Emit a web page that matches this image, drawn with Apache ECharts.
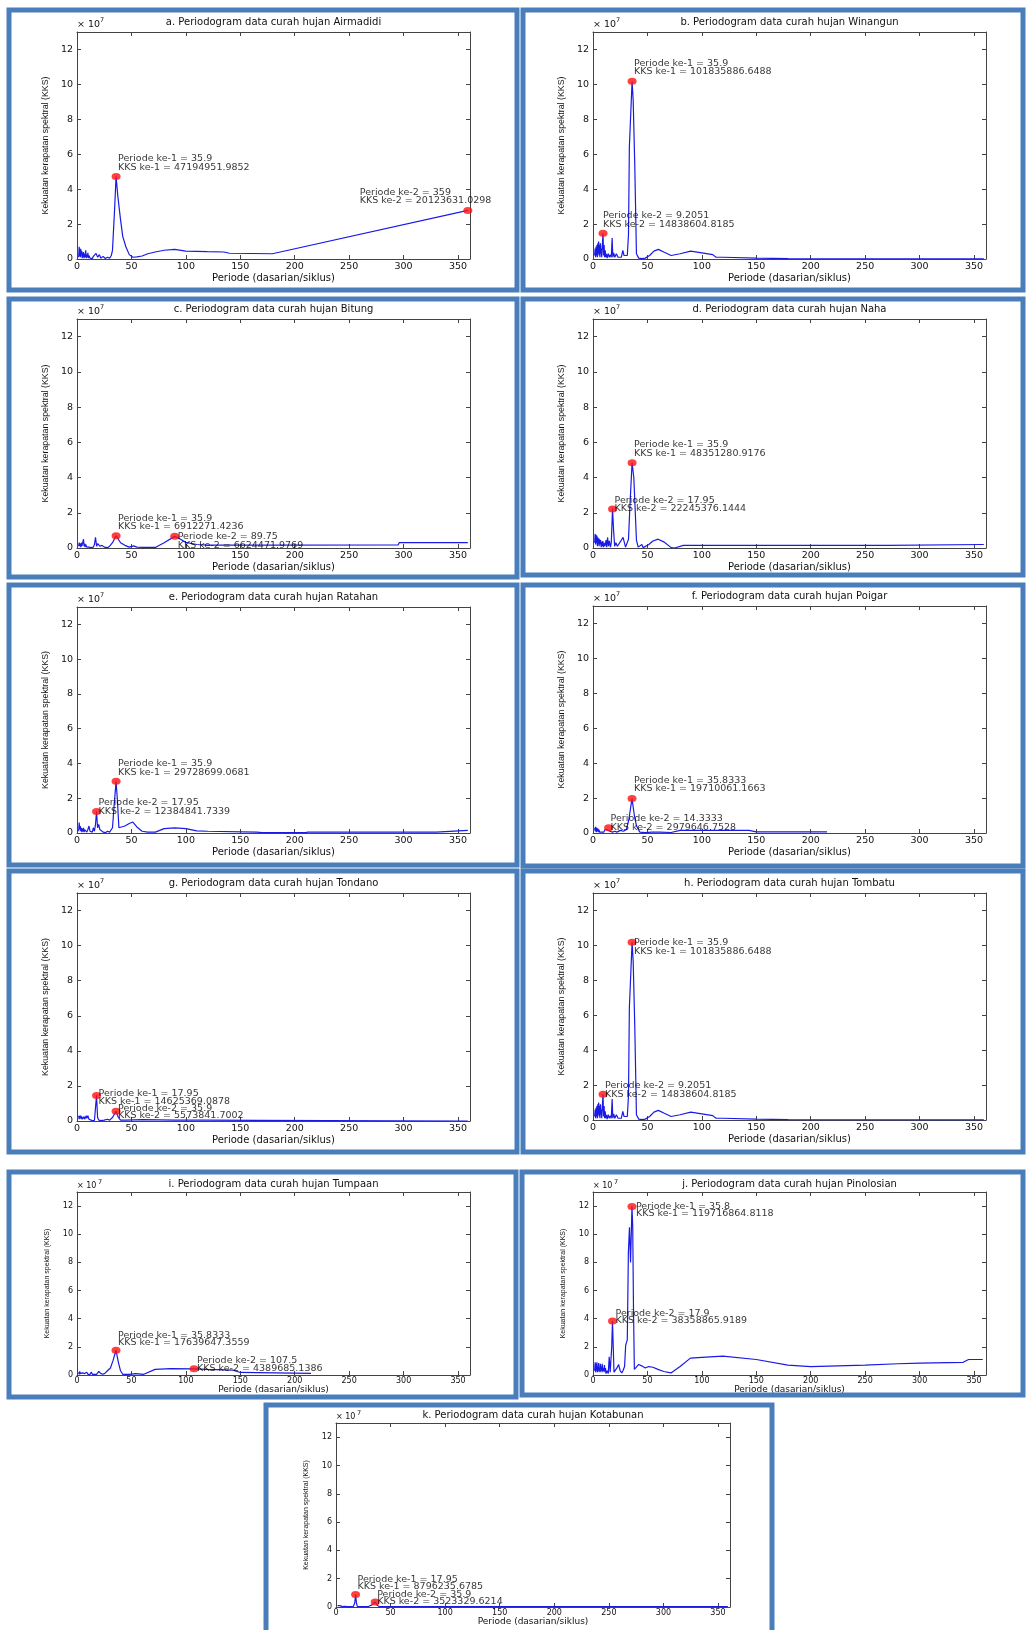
<!DOCTYPE html>
<html>
<head>
<meta charset="utf-8">
<title>Periodogram data curah hujan</title>
<script src="https://cdn.jsdelivr.net/npm/echarts@6/dist/echarts.min.js"></script>
<style>
  html, body { margin: 0; padding: 0; background: #fff; }
  #chart { width: 1026px; height: 1630px; }
</style>
</head>
<body>
<div id="chart"></div>
<script>
// [periode (dasarian/siklus), KKS x 10^7]
const kksAirmadidi = [[1.5,0.1],[2,0.7],[2.4,0.15],[2.8,0.6],[3.2,0.1],[3.6,0.55],[4,0.2],[4.4,0.45],[4.8,0.05],[5.2,0.35],[5.6,0.1],[6,0.4],[6.5,0.05],[7,0.3],[7.5,0.1],[8,0.5],[8.5,0.05],[9,0.25],[9.5,0.1],[10,0.35],[10.5,0.05],[11,0.2],[12,0.05],[13,0.1],[14,0.02],[15,0.15],[16,0.25],[17.5,0.32],[19,0.1],[20.5,0.25],[22,0.05],[24,0.15],[26,0.03],[28,0.1],[30,0.05],[31.5,0.2],[32.6,0.5],[34.5,2.8],[35.9,4.72],[37.5,3.6],[39.9,2.3],[42,1.3],[44.9,0.7],[48,0.25],[51.3,0.1],[55,0.12],[59.8,0.17],[65,0.3],[71.8,0.4],[80,0.5],[89.75,0.55],[100,0.45],[119.7,0.42],[135,0.4],[140,0.33],[179.5,0.3],[359,2.78]];
const kksWinangun = [[1.5,0.2],[2,0.6],[2.4,0.1],[2.8,0.7],[3.2,0.2],[3.6,0.8],[4,0.1],[4.4,0.9],[4.8,0.3],[5.2,1.0],[5.6,0.2],[6,0.8],[6.4,0.1],[6.8,0.9],[7.2,0.3],[7.6,0.6],[8,0.1],[8.5,0.7],[9.2,1.48],[9.7,0.2],[10.2,0.8],[10.7,0.1],[11.2,0.5],[11.8,0.1],[12.4,0.3],[13,0.05],[14,0.3],[15,0.1],[16,0.25],[16.8,0.1],[17.6,1.2],[18.2,0.1],[19,0.35],[20,0.1],[21.5,0.3],[23,0.1],[24.5,0.2],[26,0.1],[27.4,0.5],[28.5,0.2],[30,0.1],[31.5,0.2],[32.6,1.4],[33.4,6.4],[34.6,6.4],[35.9,10.18],[36.9,9.1],[38.4,5.3],[39.9,0.3],[42,0.05],[45,0.02],[48,0.05],[52,0.2],[56,0.45],[60,0.55],[65,0.4],[71.8,0.2],[80,0.3],[89.75,0.45],[100,0.35],[110,0.25],[113,0.1],[119.7,0.1],[150,0.05],[179.5,0.02],[359,0.01]];
const kksBitung = [[1.5,0.1],[2,0.3],[2.5,0.1],[3,0.25],[3.5,0.05],[4,0.3],[4.5,0.1],[5,0.2],[5.5,0.05],[6,0.5],[6.5,0.1],[7,0.25],[7.5,0.05],[8,0.2],[9,0.05],[10,0.15],[11,0.05],[12,0.1],[13,0.02],[14,0.1],[15,0.05],[16,0.2],[17,0.6],[18,0.1],[19,0.25],[21,0.1],[23,0.15],[25,0.05],[28,0.02],[30,0.1],[32.6,0.3],[35.9,0.69],[38,0.5],[40,0.3],[44,0.15],[48,0.05],[52,0.12],[55,0.05],[60,0.03],[72,0.03],[80,0.3],[89.75,0.66],[95,0.5],[100,0.32],[110,0.2],[120,0.16],[179.5,0.16],[295,0.17],[296,0.3],[359,0.3]];
const kksNaha = [[1.5,0.3],[2,0.8],[2.4,0.2],[2.8,0.75],[3.2,0.3],[3.6,0.7],[4,0.1],[4.4,0.6],[4.8,0.2],[5.2,0.55],[5.6,0.1],[6,0.5],[6.5,0.2],[7,0.45],[7.5,0.05],[8,0.35],[8.5,0.1],[9,0.4],[9.5,0.05],[10,0.3],[11,0.1],[12,0.45],[12.6,0.05],[13.4,0.6],[14.2,0.1],[15,0.4],[16,0.05],[16.8,0.3],[17.95,2.22],[18.9,1.0],[19.9,0.1],[21,0.3],[22.4,0.1],[24,0.2],[25.6,0.4],[27.6,0.6],[29.9,0.05],[31.5,0.05],[32.6,0.5],[34,2.5],[35.9,4.84],[37.5,4.0],[39.9,0.45],[41.5,0.05],[44.9,0.2],[46,0.02],[51.3,0.2],[55,0.4],[59.8,0.5],[65,0.35],[71.8,0.02],[75,0.0],[83,0.15],[179.5,0.15],[270,0.15],[271,0.2],[359,0.2]];
const kksRatahan = [[1.5,0.1],[2,0.6],[2.5,0.2],[3,0.4],[3.5,0.1],[4,0.3],[4.5,0.05],[5,0.25],[5.5,0.1],[6,0.3],[6.5,0.05],[7,0.2],[7.5,0.1],[8,0.15],[9,0.05],[10,0.2],[11,0.4],[12,0.1],[13,0.2],[14,0.05],[15,0.3],[16,0.1],[17,0.5],[17.95,1.24],[18.9,0.3],[19.9,0.5],[21,0.2],[22.4,0.1],[24,0.05],[26,0.02],[28,0.1],[30,0.05],[32.6,0.3],[34,1.5],[35.9,2.97],[37,2.0],[38.5,0.3],[40,0.2],[44,0.4],[48,0.55],[51.3,0.63],[55,0.35],[59.8,0.1],[65,0.05],[72,0.05],[80,0.25],[89.75,0.3],[100,0.25],[110,0.12],[120,0.1],[165,0.05],[170,0.02],[210,0.02],[212,0.05],[330,0.05],[331,0.15],[359,0.15]];
const kksPoigar = [[1.5,0.3],[2,0.1],[2.5,0.35],[3,0.05],[3.5,0.3],[4,0.1],[4.5,0.25],[5,0.05],[5.5,0.2],[6,0.05],[7,0.15],[8,0.05],[9,0.1],[10,0.05],[11,0.2],[12,0.1],[13,0.2],[14.33,0.3],[15.4,0.1],[16.5,0.2],[18,0.05],[20,0.1],[22,0.05],[25,0.15],[28,0.1],[30.7,0.2],[33,0.8],[35.83,1.97],[38,1.0],[40,0.4],[43,0.05],[47.8,0.02],[53.75,0.05],[61.4,0.05],[71.7,0.03],[80,0.15],[107.5,0.15],[143.3,0.15],[150,0.06],[215,0.06]];
const kksTondano = [[1.5,0.3],[2,0.1],[2.5,0.3],[3,0.15],[3.5,0.3],[4,0.1],[4.5,0.25],[5,0.1],[5.5,0.2],[6,0.1],[6.5,0.25],[7,0.1],[7.5,0.2],[8,0.1],[8.5,0.3],[9,0.15],[10,0.3],[11,0.1],[12,0.05],[14,0.02],[16,0.03],[17,0.1],[17.95,1.46],[18.9,0.2],[20,0.05],[22,0.02],[25,0.05],[28,0.1],[30,0.05],[32.6,0.2],[35.9,0.56],[38,0.2],[40,0.05],[45,0.05],[60,0.08],[90,0.05],[120,0.05],[165,0.04],[166,0.0],[359,0.0]];
const kksTombatu = kksWinangun; // panel h is drawn identical to panel b
const kksTumpaan = [[1.5,0.2],[2,0.05],[2.5,0.25],[3,0.1],[3.5,0.2],[4,0.05],[5,0.15],[6,0.05],[7,0.1],[8,0.05],[9,0.2],[10,0.05],[11,0.15],[12,0.05],[13,0.2],[14.3,0.05],[16,0.1],[18,0.05],[20,0.25],[22,0.1],[24,0.05],[26,0.15],[28,0.3],[30.7,0.5],[33,1.0],[35.83,1.76],[38,0.9],[40,0.3],[42,0.05],[47.8,0.05],[53.75,0.1],[61.4,0.05],[71.7,0.4],[86,0.45],[107.5,0.44],[120,0.4],[143.3,0.35],[150,0.18],[215,0.12]];
const kksPinolosian = [[1.5,0.3],[2,0.9],[2.4,0.2],[2.8,0.8],[3.2,0.3],[3.6,0.9],[4,0.2],[4.4,0.6],[4.8,0.3],[5.2,0.85],[5.6,0.2],[6,0.5],[6.4,0.3],[6.8,0.8],[7.2,0.2],[7.6,0.6],[8,0.3],[8.5,0.8],[9,0.2],[9.5,0.5],[10,0.3],[10.5,0.7],[11,0.2],[11.5,0.5],[12,0.1],[13,0.3],[14,0.1],[14.9,1.3],[15.8,0.2],[16.5,0.1],[17.2,2.0],[17.9,3.84],[18.6,2.0],[19.3,0.2],[20.5,0.1],[22,0.5],[23.5,0.75],[25,0.3],[26.5,0.15],[27.5,0.3],[29,0.6],[30,2.1],[31.5,2.5],[32.5,8.7],[33.5,10.5],[34.5,8.0],[35.8,11.97],[36.5,10.5],[37.2,4.7],[38,0.4],[39.8,0.5],[42,0.75],[44.75,0.65],[48,0.5],[51.1,0.6],[55,0.55],[59.7,0.4],[65,0.25],[71.6,0.15],[80,0.6],[89.5,1.2],[100,1.25],[119.3,1.34],[150,1.1],[179,0.7],[200,0.6],[225,0.65],[250,0.7],[280,0.8],[300,0.85],[340,0.9],[345,1.1],[358,1.1]];
const kksKotabunan = [[1.5,0.1],[2,0.05],[2.5,0.12],[3,0.03],[3.5,0.1],[4,0.05],[5,0.1],[6,0.03],[7,0.08],[8,0.05],[9,0.1],[10,0.03],[11,0.08],[12,0.02],[14,0.03],[16,0.05],[17.2,0.3],[17.95,0.88],[18.7,0.3],[19.5,0.05],[22,0.02],[26,0.03],[30,0.05],[33,0.15],[35.9,0.35],[38,0.1],[40,0.02],[60,0.02],[120,0.02],[359,0.02]];

// the two marked peaks of each panel: [periode, KKS x 10^7]
const puncakAirmadidi = [[35.9, 4.72], [359, 2.78]];
const puncakWinangun = [[35.9, 10.18], [9.2051, 1.48]];
const puncakBitung = [[35.9, 0.69], [89.75, 0.66]];
const puncakNaha = [[35.9, 4.84], [17.95, 2.22]];
const puncakRatahan = [[35.9, 2.97], [17.95, 1.24]];
const puncakPoigar = [[35.8333, 1.97], [14.3333, 0.3]];
const puncakTondano = [[17.95, 1.46], [35.9, 0.56]];
const puncakTombatu = [[35.9, 10.18], [9.2051, 1.48]];
const puncakTumpaan = [[35.8333, 1.76], [107.5, 0.44]];
const puncakPinolosian = [[35.8, 11.97], [17.9, 3.84]];
const puncakKotabunan = [[17.95, 0.88], [35.9, 0.35]];

const teksAirmadidi = ['Periode ke-1 = 35.9\nKKS ke-1 = 47194951.9852', 'Periode ke-2 = 359\nKKS ke-2 = 20123631.0298'];
const teksWinangun = ['Periode ke-1 = 35.9\nKKS ke-1 = 101835886.6488', 'Periode ke-2 = 9.2051\nKKS ke-2 = 14838604.8185'];
const teksBitung = ['Periode ke-1 = 35.9\nKKS ke-1 = 6912271.4236', 'Periode ke-2 = 89.75\nKKS ke-2 = 6624471.9769'];
const teksNaha = ['Periode ke-1 = 35.9\nKKS ke-1 = 48351280.9176', 'Periode ke-2 = 17.95\nKKS ke-2 = 22245376.1444'];
const teksRatahan = ['Periode ke-1 = 35.9\nKKS ke-1 = 29728699.0681', 'Periode ke-2 = 17.95\nKKS ke-2 = 12384841.7339'];
const teksPoigar = ['Periode ke-1 = 35.8333\nKKS ke-1 = 19710061.1663', 'Periode ke-2 = 14.3333\nKKS ke-2 = 2979646.7528'];
const teksTondano = ['Periode ke-1 = 17.95\nKKS ke-1 = 14625369.0878', 'Periode ke-2 = 35.9\nKKS ke-2 = 5573841.7002'];
const teksTombatu = ['Periode ke-1 = 35.9\nKKS ke-1 = 101835886.6488', 'Periode ke-2 = 9.2051\nKKS ke-2 = 14838604.8185'];
const teksTumpaan = ['Periode ke-1 = 35.8333\nKKS ke-1 = 17639647.3559', 'Periode ke-2 = 107.5\nKKS ke-2 = 4389685.1386'];
const teksPinolosian = ['Periode ke-1 = 35.8\nKKS ke-1 = 119716864.8118', 'Periode ke-2 = 17.9\nKKS ke-2 = 38358865.9189'];
const teksKotabunan = ['Periode ke-1 = 17.95\nKKS ke-1 = 8796235.6785', 'Periode ke-2 = 35.9\nKKS ke-2 = 3523329.6214'];

const judul = [
  'a. Periodogram data curah hujan Airmadidi',
  'b. Periodogram data curah hujan Winangun',
  'c. Periodogram data curah hujan Bitung',
  'd. Periodogram data curah hujan Naha',
  'e. Periodogram data curah hujan Ratahan',
  'f. Periodogram data curah hujan Poigar',
  'g. Periodogram data curah hujan Tondano',
  'h. Periodogram data curah hujan Tombatu',
  'i. Periodogram data curah hujan Tumpaan',
  'j. Periodogram data curah hujan Pinolosian',
  'k. Periodogram data curah hujan Kotabunan'
];
const semuaKks = [kksAirmadidi, kksWinangun, kksBitung, kksNaha, kksRatahan, kksPoigar, kksTondano, kksTombatu, kksTumpaan, kksPinolosian, kksKotabunan];
const semuaPuncak = [puncakAirmadidi, puncakWinangun, puncakBitung, puncakNaha, puncakRatahan, puncakPoigar, puncakTondano, puncakTombatu, puncakTumpaan, puncakPinolosian, puncakKotabunan];
const semuaTeks = [teksAirmadidi, teksWinangun, teksBitung, teksNaha, teksRatahan, teksPoigar, teksTondano, teksTombatu, teksTumpaan, teksPinolosian, teksKotabunan];

// layout: frame box, plot grid [left, top, width, height], label offsets of the two peaks, short panel flag
const tata = [
  { box: [9, 10, 508, 280], grid: [77, 32, 393, 227], lab: [[2, -13.5], [-108, -14]], lh: 8.7, kecil: false },
  { box: [523, 10, 500, 280], grid: [593, 32, 393, 227], lab: [[2, -13.8], [0, -13.2]], lh: 8.7, kecil: false },
  { box: [9, 299, 508, 278], grid: [77, 319, 393, 229], lab: [[2, -13.2], [3, 4.5]], lh: 8.7, kecil: false },
  { box: [523, 299, 500, 276], grid: [593, 319, 393, 229], lab: [[2, -13.5], [2, -4.3]], lh: 8.7, kecil: false },
  { box: [9, 585, 508, 280], grid: [77, 607, 393, 226], lab: [[2, -13.2], [2, -4.7]], lh: 8.7, kecil: false },
  { box: [523, 585, 500, 281], grid: [593, 606, 393, 227], lab: [[2, -14], [2, -4.8]], lh: 8.7, kecil: false },
  { box: [9, 871, 508, 281], grid: [77, 893, 393, 228], lab: [[2, 1.8], [2, 1]], lh: 7.7, kecil: false },
  { box: [523, 871, 500, 281], grid: [593, 893, 393, 227], lab: [[2, 5], [2, -4.3]], lh: 8.7, kecil: false },
  { box: [9, 1172, 507, 225], grid: [77, 1192, 393, 183], lab: [[2, -11.3], [3, -4.2]], lh: 7.5, kecil: true },
  { box: [522, 1172, 501, 223], grid: [593, 1192, 393, 183], lab: [[4, 3.5], [3, -4]], lh: 7.7, kecil: true },
  { box: [266, 1405, 506, 240], grid: [336, 1423, 394, 184], lab: [[2, -11.7], [2, -3.8]], lh: 7.5, kecil: true }
];

const FONT = '"DejaVu Sans", sans-serif';
const WARNA_TEKS = '#111';
const WARNA_SUMBU = '#444';

var chartDom = document.getElementById('chart');
var myChart = echarts.init(chartDom);

var grid = [], xAxis = [], yAxis = [], series = [], graphic = [];

judul.forEach(function (nama, i) {
  var t = tata[i];
  var g = t.grid;
  var tickSize = t.kecil ? 8 : 9.5;
  grid.push({ left: g[0], top: g[1], width: g[2], height: g[3] });

  var garis = { show: true, onZero: false, lineStyle: { color: WARNA_SUMBU, width: 1 } };
  var tick = { show: true, inside: true, length: 4, lineStyle: { color: WARNA_SUMBU, width: 1 } };
  var sumbuX = {
    gridIndex: i, type: 'value', min: 0, max: 361, interval: 50,
    axisLine: garis, axisTick: tick, splitLine: { show: false }
  };
  var sumbuY = {
    gridIndex: i, type: 'value', min: 0, max: 13, interval: 2,
    axisLine: garis, axisTick: tick, splitLine: { show: false }
  };

  xAxis.push(Object.assign({}, sumbuX, {
    position: 'bottom',
    axisLabel: {
      margin: t.kecil ? 2 : 3, fontFamily: FONT, fontSize: tickSize, color: WARNA_TEKS,
      formatter: function (v) { return v % 50 === 0 ? String(v) : ''; }
    },
    name: 'Periode (dasarian/siklus)', nameLocation: 'middle', nameGap: t.kecil ? 10 : 14,
    nameMoveOverlap: false,
    nameTextStyle: { fontFamily: FONT, fontSize: t.kecil ? 9 : 10, color: WARNA_TEKS }
  }));
  xAxis.push(Object.assign({}, sumbuX, { position: 'top', axisLabel: { show: false } }));

  yAxis.push(Object.assign({}, sumbuY, {
    position: 'left',
    axisLabel: {
      margin: 4, fontFamily: FONT, fontSize: tickSize, color: WARNA_TEKS,
      formatter: function (v) { return v % 2 === 0 ? String(v) : ''; }
    },
    name: 'Kekuatan kerapatan spektral (KKS)', nameLocation: 'middle', nameRotate: 90,
    nameGap: t.kecil ? 26 : 27, nameMoveOverlap: false,
    nameTextStyle: { fontFamily: '"Liberation Sans", Arial, sans-serif', fontSize: t.kecil ? 7 : 8.8, color: WARNA_TEKS }
  }));
  yAxis.push(Object.assign({}, sumbuY, { position: 'right', axisLabel: { show: false } }));

  series.push({
    type: 'line', xAxisIndex: 2 * i, yAxisIndex: 2 * i,
    data: semuaKks[i], showSymbol: false, symbol: 'none', silent: true,
    lineStyle: { color: '#1a1ae6', width: 1.2 }, z: 2
  });
  series.push({
    type: 'scatter', xAxisIndex: 2 * i, yAxisIndex: 2 * i, z: 3,
    symbol: 'circle', symbolSize: [9, 7], itemStyle: { color: '#ff1010' },
    data: semuaPuncak[i].map(function (v, j) {
      return {
        value: v,
        label: {
          show: true, position: 'inside', align: 'left', verticalAlign: 'middle',
          offset: t.lab[j], formatter: semuaTeks[i][j],
          fontFamily: FONT, fontSize: 9.5, lineHeight: t.lh, color: '#000',
          textBorderWidth: 0
        }
      };
    })
  });

  // blue frame of the panel
  graphic.push({
    type: 'rect', silent: true, z: 10,
    shape: { x: t.box[0], y: t.box[1], width: t.box[2], height: t.box[3] },
    style: { fill: null, stroke: '#4a7ebb', lineWidth: 5 }
  });
  // title and exponent
  var atas = t.kecil ? 7.5 : 10;
  graphic.push({
    type: 'text', silent: true, x: g[0] + g[2] / 2, y: g[1] - atas,
    style: { text: nama, fill: WARNA_TEKS, font: '10px ' + FONT, align: 'center', verticalAlign: 'middle' }
  });
  graphic.push({
    type: 'text', silent: true, x: g[0], y: g[1] - (t.kecil ? 6 : 7),
    style: { text: '× 10', fill: WARNA_TEKS, font: (t.kecil ? 8 : 9.5) + 'px ' + FONT, align: 'left', verticalAlign: 'middle' }
  });
  graphic.push({
    type: 'text', silent: true, x: g[0] + (t.kecil ? 21 : 23), y: g[1] - (t.kecil ? 10 : 12),
    style: { text: '7', fill: WARNA_TEKS, font: '6.5px ' + FONT, align: 'left', verticalAlign: 'middle' }
  });
});

var option = {
  animation: false,
  backgroundColor: '#ffffff',
  grid: grid,
  xAxis: xAxis,
  yAxis: yAxis,
  series: series,
  graphic: graphic
};

myChart.setOption(option);
window.addEventListener('resize', () => myChart.resize());
</script>
</body>
</html>
